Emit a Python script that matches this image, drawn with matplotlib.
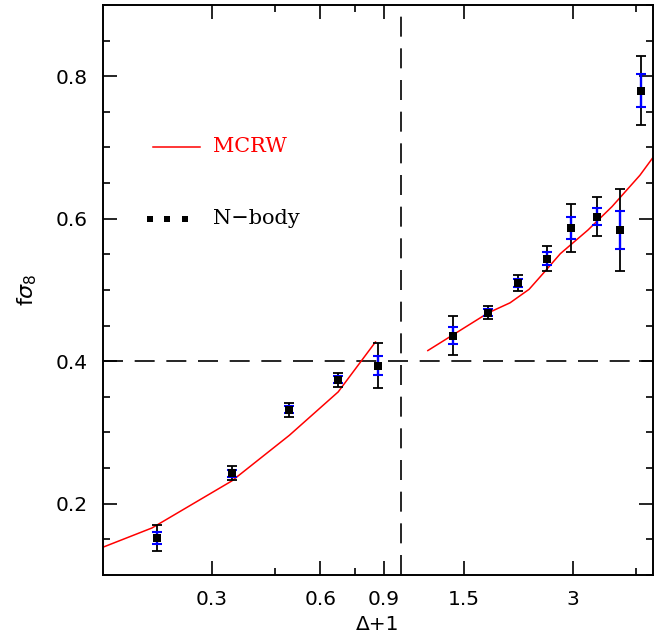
import numpy as np
import matplotlib
matplotlib.use("Agg")
import matplotlib.pyplot as plt
from matplotlib.ticker import NullFormatter

# N-body measurements (Delta+1, f sigma_8, total error, inner error)
delta1 = [0.212, 0.341, 0.492, 0.672, 0.868,
          1.40, 1.75, 2.12, 2.55, 2.97, 3.50, 4.04, 4.64]
fs8 = [0.152, 0.243, 0.332, 0.374, 0.394,
       0.436, 0.468, 0.510, 0.544, 0.587, 0.603, 0.584, 0.780]
err_black = [0.018, 0.010, 0.010, 0.010, 0.031,
             0.027, 0.009, 0.011, 0.018, 0.034, 0.027, 0.058, 0.049]
err_blue = [0.008, 0.005, 0.005, 0.005, 0.014,
            0.012, 0.005, 0.006, 0.009, 0.016, 0.012, 0.027, 0.023]

# MCRW prediction, underdense and overdense branches
mcrw_x_lo = [0.15, 0.205, 0.341, 0.492, 0.672, 0.852]
mcrw_y_lo = [0.139, 0.166, 0.232, 0.296, 0.357, 0.427]
mcrw_x_hi = [1.19, 1.75, 2.01, 2.27, 2.51, 2.77, 3.3, 3.85, 4.6, 5.0]
mcrw_y_hi = [0.415, 0.468, 0.482, 0.501, 0.526, 0.551, 0.584, 0.617, 0.661, 0.686]

xticks = [0.3, 0.6, 0.9, 1.5, 3]
xtick_labels = ['0.3', '0.6', '0.9', '1.5', '3']
xminor = [0.45, 0.75, 4.5]

fig = plt.figure(figsize=(6.72, 6.42), dpi=100)
ax = fig.add_axes([0.1533, 0.1044, 0.8184, 0.8878])

ax.set_xscale('log')
ax.set_xlim(0.15, 5.0)
ax.set_ylim(0.1, 0.9)

# reference lines
ax.axhline(0.4, color='black', lw=1.2, ls=(0, (12, 7)), zorder=1)
ax.axvline(1.0, color='black', lw=1.2, ls=(0, (12, 7)), zorder=1)

ax.plot(mcrw_x_lo, mcrw_y_lo, color='red', lw=1.1, zorder=2)
ax.plot(mcrw_x_hi, mcrw_y_hi, color='red', lw=1.1, zorder=2)

ax.errorbar(delta1, fs8, yerr=err_black, fmt='none', ecolor='black',
            elinewidth=1.3, capsize=3.4, capthick=1.3, zorder=3)
ax.errorbar(delta1, fs8, yerr=err_blue, fmt='none', ecolor='blue',
            elinewidth=1.7, capsize=3.4, capthick=1.5, zorder=4)
ax.plot(delta1, fs8, 's', color='black', ms=5.6, mew=0, zorder=5)

# hand-drawn legend
ax.plot([0.091, 0.176], [0.751, 0.751], color='red', lw=1.1, transform=ax.transAxes)
ax.text(0.1995, 0.751, 'MCRW', color='red', fontsize=15, family='DejaVu Serif',
        va='center', ha='left', transform=ax.transAxes)
ax.plot([0.0855, 0.1164, 0.149], [0.6246] * 3, 's', color='black', ms=5, mew=0,
        transform=ax.transAxes)
ax.text(0.1995, 0.6246, 'N\u2212body', color='black', fontsize=15, family='DejaVu Serif',
        va='center', ha='left', transform=ax.transAxes)

ax.set_xticks(xticks)
ax.set_xticklabels(xtick_labels)
ax.set_xticks(xminor, minor=True)
ax.xaxis.set_minor_formatter(NullFormatter())
ax.set_yticks([0.2, 0.4, 0.6, 0.8])
ax.set_yticklabels(['0.2', '0.4', '0.6', '0.8'])
ax.set_yticks(np.arange(0.1, 0.9001, 0.05), minor=True)

ax.tick_params(which='both', direction='in', top=True, right=True, width=1.2,
               labelsize=14.5)
ax.tick_params(which='major', length=10, pad=11)
ax.tick_params(which='minor', length=4.7)
for s in ax.spines.values():
    s.set_linewidth(1.4)

ax.set_xlabel('\u0394+1', fontsize=14.5, labelpad=4)
ax.set_ylabel(r'f$\sigma_8$', fontsize=16, labelpad=12)

fig.savefig('out.png', dpi=100)
